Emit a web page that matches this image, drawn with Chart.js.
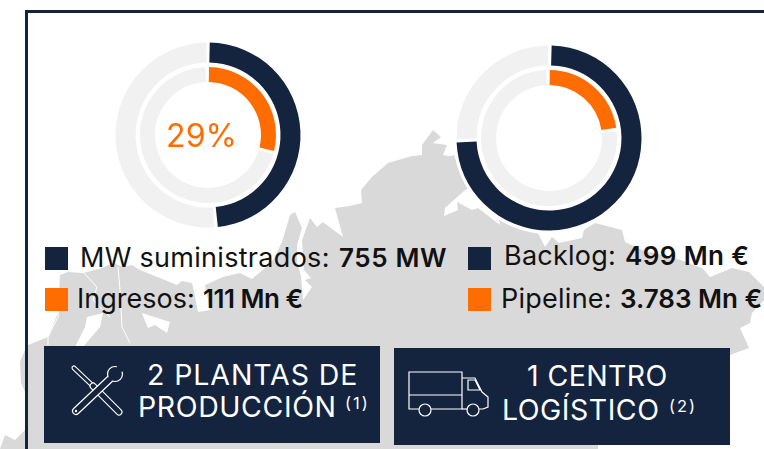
<!DOCTYPE html>
<html lang="es">
  <head>
    <meta charset="UTF-8" />
    <title>Donuts</title>
    <script src="https://cdn.jsdelivr.net/npm/chart.js"></script>
    <style>
      html, body { margin: 0; padding: 0; background: #fff; }
      #page { position: relative; width: 764px; height: 449px; overflow: hidden; font-family: Inter, sans-serif; color: #111; }
      #map, #icons { position: absolute; left: 0; top: 0; }
      .disc { position: absolute; width: 192px; height: 192px; border-radius: 50%; background: #fff; }
      canvas { position: absolute; }
      .frame { position: absolute; background: #14243f; }
      .sq { position: absolute; width: 23px; height: 23px; }
      .box { position: absolute; background: #14243f; width: 336px; height: 97px; }
      .t { position: absolute; white-space: nowrap; line-height: 1; }
      .leg { font-size: 27px; font-weight: 400; }
      .val { font-size: 26px; font-weight: 600; }
      .cap { font-size: 28.5px; color: #fff; font-weight: 400; }
      .sup { font-size: 16.5px; color: #fff; letter-spacing: 2px; }
    </style>
  </head>
  <body>
    <div id="page">
      <svg id="map" width="764" height="449">
        <!-- map silhouette behind everything -->
        <polygon fill="#d9d9d9" points="28,345 48,337 58,313 60,275 68,272 83,273 102,268 113,263 123,267 132,265 140,270 160,278 177,285 182,281 192,283 194,292 205,285 223,277 240,273 252,279 265,268 273,260 282,242 290,215 295,212 302,228 310,218 317,227 323,222 343,237 335,208 350,206 362,203 361,190 372,177 388,163 412,156 422,155 422,145 433,130 441,137 433,143 447,145 443,155 450,156 548,138 530,225 539,235 545,247 552,237 559,243 582,238 584,230 595,223 622,230 625,242 642,250 675,258 702,268 710,277 732,268 749,272 764,287 764,300 752,313 750,323 740,328 749,348 738,352 730,355 730,445 598,445 598,449 28,449" />
        <polygon fill="#d9d9d9" points="25,350 20,362 21,383 25,392" />
        <polygon fill="#d9d9d9" points="0,449 5,435 15,440 25,430 25,449" />
        <!-- bays -->
        <polygon fill="#fff" points="142,313 170,322 167,333 155,325 148,328 143,316" />
        <polygon fill="#fff" points="194,292 205,285 210,310 198,312" />
        <polygon fill="#fff" points="302,228 297,245 297,262 301,276 303,300 312,287 305,280 311,278 304,270 302,240 310,218" />
        <polygon fill="#fff" points="87,317 103,313 100,327 83,347 75,347 85,327" />
        <polygon fill="#fff" points="465,190 445,208 444,216 458,210 457,202 472,210 478,208 500,225 490,180" />
        <polyline fill="none" stroke="#fff" stroke-width="1" points="83,272 97,287 93,300 110,317" />
        <polyline fill="none" stroke="#fff" stroke-width="1" points="118,267 120,290 122,327 130,343" />
        <polyline fill="none" stroke="#fff" stroke-width="1" points="60,303 58,317 48,337 48,345" />
      </svg>

      <div class="disc" style="left: 111.5px; top: 38.5px"></div>
      <div class="disc" style="left: 452.5px; top: 42px"></div>

      <canvas id="chartMw" width="200" height="200" style="left: 107.5px; top: 34.5px"></canvas>
      <canvas id="chartBacklog" width="200" height="200" style="left: 448.5px; top: 38px"></canvas>

      <div class="frame" style="left: 25px; top: 10px; width: 3px; height: 439px"></div>
      <div class="frame" style="left: 25px; top: 10px; width: 739px; height: 3px"></div>

      <div class="sq" style="left: 45px; top: 247px; background: #14243f"></div>
      <div class="sq" style="left: 45px; top: 288px; background: #ff6c00"></div>
      <div class="sq" style="left: 468px; top: 247px; background: #14243f"></div>
      <div class="sq" style="left: 468px; top: 288px; background: #ff6c00"></div>

      <div class="t leg" style="left: 80px; top: 243.7px; letter-spacing: 0.3px">MW suministrados:</div>
      <div class="t val" style="left: 339px; top: 244.5px; letter-spacing: 0.6px">755 MW</div>
      <div class="t leg" style="left: 77px; top: 284.7px">Ingresos:</div>
      <div class="t val" style="left: 203px; top: 285.5px; letter-spacing: -0.5px">111 Mn €</div>
      <div class="t leg" style="left: 504px; top: 241.7px; letter-spacing: 0.25px">Backlog:</div>
      <div class="t val" style="left: 625px; top: 242.5px; letter-spacing: 0.4px">499 Mn €</div>
      <div class="t leg" style="left: 501px; top: 284.7px; letter-spacing: 0.25px">Pipeline:</div>
      <div class="t val" style="left: 620px; top: 285.5px">3.783 Mn €</div>

      <div class="box" style="left: 44px; top: 346px"></div>
      <div class="box" style="left: 394px; top: 348px"></div>

      <div class="t cap" style="left: 147px; top: 361.4px; letter-spacing: 0.9px">2 PLANTAS DE</div>
      <div class="t cap" style="left: 138px; top: 393.4px; letter-spacing: 0.6px">PRODUCCIÓN</div>
      <div class="t sup" style="left: 345px; top: 395px">(1)</div>
      <div class="t cap" style="left: 527px; top: 362.4px; letter-spacing: 0.4px">1 CENTRO</div>
      <div class="t cap" style="left: 502px; top: 396.4px; letter-spacing: 0.5px">LOGÍSTICO</div>
      <div class="t sup" style="left: 669px; top: 398px">(2)</div>

      <svg id="icons" width="764" height="449">
        <!-- screwdriver -->
        <line x1="74" y1="368" x2="93" y2="386" stroke="#fff" stroke-width="5" stroke-linecap="round" />
        <line x1="74" y1="368" x2="93" y2="386" stroke="#14243f" stroke-width="2.8" stroke-linecap="round" />
        <line x1="93" y1="386" x2="119" y2="412" stroke="#fff" stroke-width="7" stroke-linecap="round" />
        <line x1="93" y1="386" x2="119" y2="412" stroke="#14243f" stroke-width="4.8" stroke-linecap="round" />
        <!-- wrench -->
        <line x1="76" y1="411" x2="111" y2="378" stroke="#fff" stroke-width="8" stroke-linecap="round" />
        <line x1="76" y1="411" x2="111" y2="378" stroke="#14243f" stroke-width="5.6" stroke-linecap="round" />
        <circle cx="76" cy="411" r="1.2" fill="#fff" />
        <circle cx="115" cy="374" r="7.5" fill="#14243f" stroke="#fff" stroke-width="1.2" />
        <polygon fill="#14243f" points="114,374 119,362 128,370" />
        <line x1="109" y1="380" x2="113" y2="376" stroke="#14243f" stroke-width="5" />
        <!-- truck -->
        <g fill="none" stroke="#fff" stroke-width="1.2">
          <path d="M419 409 H409 V372 H462 V409 H431" />
          <path d="M409 395 H462" />
          <path d="M462 378 H475 L482 392 L488 397 V407 L483 409 H479" />
          <path d="M468 380 V390 H480 L475 380 Z" />
          <path d="M462 409 H467" />
          <circle cx="425" cy="410" r="6" />
          <circle cx="473" cy="410" r="6" />
        </g>
      </svg>
    </div>

    <script>
      const mwLabels = ["MW suministrados", "Resto"];
      const mwValues = [48.6, 51.4];
      const ingresosLabels = ["Ingresos", "Resto"];
      const ingresosValues = [29, 71];
      const backlogLabels = ["Backlog", "Resto"];
      const backlogValues = [74.7, 25.3];
      const pipelineLabels = ["Pipeline", "Resto"];
      const pipelineValues = [22.8, 77.2];
      const centerText = "29%";

      const navy = "#14243f";
      const orange = "#ff6c00";
      const track = "#f1f1f1";

      // writes the percentage in the hole of the donut
      const counter = {
        id: "counter",
        afterDraw(chart, args, options) {
          if (!options.text) return;
          const { ctx, chartArea: { left, top, width, height } } = chart;
          ctx.save();
          ctx.font = "400 32px Inter, sans-serif";
          ctx.fillStyle = orange;
          ctx.textAlign = "center";
          ctx.textBaseline = "middle";
          ctx.fillText(options.text, left + width / 2 - 6.5, top + height / 2 + 2);
          ctx.restore();
        },
      };

      function donut(id, outerLabels, outerValues, innerLabels, innerValues, text) {
        return new Chart(document.getElementById(id), {
          type: "doughnut",
          data: {
            labels: outerLabels,
            datasets: [
              { label: outerLabels[0], data: outerValues, backgroundColor: [navy, track], weight: 20 },
              { label: "", data: [1], backgroundColor: ["rgba(0,0,0,0)"], weight: 4.5 },
              { label: innerLabels[0], data: innerValues, backgroundColor: [orange, track], weight: 15 },
            ],
          },
          options: {
            responsive: false,
            animation: false,
            radius: 91.5,
            cutout: "56.8%",
            spacing: 2,
            borderWidth: 0,
            plugins: {
              legend: { display: false },
              tooltip: { enabled: false },
              counter: { text: text },
            },
          },
          plugins: [counter],
        });
      }

      donut("chartMw", mwLabels, mwValues, ingresosLabels, ingresosValues, centerText);
      donut("chartBacklog", backlogLabels, backlogValues, pipelineLabels, pipelineValues, "");
    </script>
  </body>
</html>
